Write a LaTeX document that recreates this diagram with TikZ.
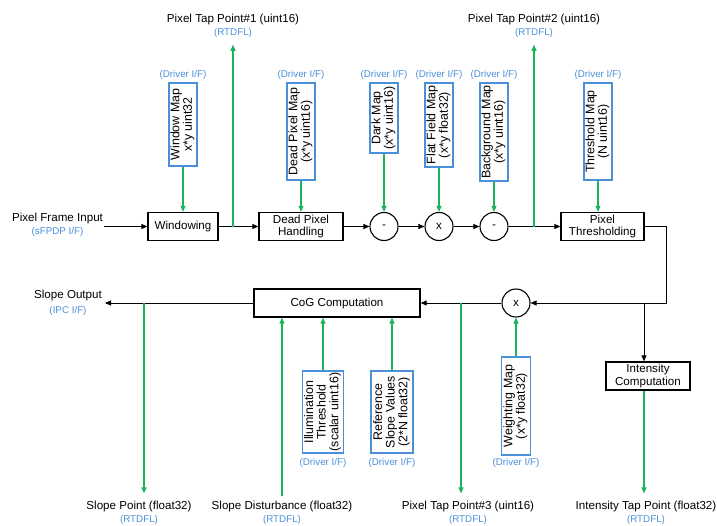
\documentclass[tikz,border=0pt]{standalone}
\usepackage{fontspec}
\setmainfont{Liberation Sans}
\usetikzlibrary{arrows.meta,calc}
\definecolor{ifblue}{HTML}{4A90D9}
\definecolor{tapgreen}{HTML}{1DB35A}

% rotated caption inside a map box
\newcommand{\maptext}[1]{\rotatebox{90}{\fontsize{12.4}{12.2}\selectfont\begin{tabular}{@{}c@{}}#1\end{tabular}}}

\begin{document}
\begin{tikzpicture}[x=1pt,y=-1pt,
  font=\fontsize{11.6}{12.4}\selectfont,
  blk/.style={draw, line width=1.3pt, align=center, inner sep=0pt,
              minimum height=28pt},
  mapbox/.style={draw=ifblue, line width=1.1pt, inner sep=0pt, minimum width=28pt},
  opnode/.style={draw, circle, line width=1.1pt, minimum size=28pt, inner sep=0pt},
  iflbl/.style={text=ifblue, inner sep=0pt, font=\fontsize{9.8}{10}\selectfont},
  lbl/.style={inner sep=0pt},
  flow/.style={line width=0.9pt, -{Triangle[length=6pt,width=5pt]}},
  tap/.style={draw=tapgreen, line width=1.1pt, -{Triangle[length=6pt,width=5pt]}},
]
\useasboundingbox (0,0) rectangle (717,525);

% ---------- upper processing chain ----------
\node[blk, minimum width=70pt] (wind) at (183,226.5) {Windowing};
\node[blk, minimum width=84pt] (dph)  at (301,226.5) {Dead Pixel\\Handling};
\node[opnode] (dark) at (384,226.5) {-};
\node[opnode] (ff)   at (439,226.5) {x};
\node[opnode] (bg)   at (494,226.5) {-};
\node[blk, minimum width=83pt] (pthr) at (602.5,226.5) {Pixel\\Thresholding};

% ---------- lower processing chain ----------
\node[blk, minimum width=166pt] (cog) at (337,303) {CoG Computation};
\node[opnode] (wgt) at (516,303) {x};
\node[blk, minimum width=84pt] (icomp) at (648,376) {Intensity\\Computation};

% ---------- driver maps (top) ----------
\node[mapbox, minimum height=83pt] (wmap) at (183,124.5) {\maptext{Window Map\\x*y uint32}};
\node[mapbox, minimum height=97pt] (dmap) at (301,131.5) {\maptext{Dead Pixel Map\\(x*y uint16)}};
\node[mapbox, minimum height=70pt] (kmap) at (384,118)   {\maptext{Dark Map\\(x*y uint16)}};
\node[mapbox, minimum height=84pt] (fmap) at (439,125)   {\maptext{Flat Field Map\\(x*y float32)}};
\node[mapbox, minimum height=98pt] (bmap) at (494,132)   {\maptext{Background Map\\(x*y uint16)}};
\node[mapbox, minimum height=97pt] (tmap) at (598,131.5) {\maptext{Threshold Map\\(N uint16)}};

\foreach \m/\n in {wmap/dw, dmap/dd, kmap/dk, fmap/df, bmap/db, tmap/dt}
  \node[iflbl] (\n) at (\m.north |- 0,75) {(Driver I/F)};

% ---------- driver inputs (bottom) ----------
\node[mapbox, minimum width=41pt, minimum height=82pt] (ilth) at (323,412)
  {\maptext{Illumination\\Threshold\\(scalar uint16)}};
\node[mapbox, minimum width=42pt, minimum height=82pt] (refs) at (392,412)
  {\maptext{Reference\\Slope Values\\(2*N float32)}};
\node[mapbox, minimum width=29pt, minimum height=98pt] (wmp) at (516,406)
  {\maptext{Weighting Map\\(x*y float32)}};

\node[iflbl] (di) at (323,463) {(Driver I/F)};
\node[iflbl] (dr) at (392,463) {(Driver I/F)};
\node[iflbl] (dg) at (516,463) {(Driver I/F)};

% ---------- external interfaces ----------
\node[lbl] (pfi)  at (57.5,218) {Pixel Frame Input};
\node[iflbl] (pfib) at (57.5,232) {(sFPDP I/F)};
\node[lbl] (sout)  at (68,295) {Slope Output};
\node[iflbl] (soutb) at (68,311) {(IPC I/F)};

\node[lbl] (t1)  at (233,19) {Pixel Tap Point\#1 (uint16)};
\node[iflbl] (t1b) at (233,33) {(RTDFL)};
\node[lbl] (t2)  at (534,19) {Pixel Tap Point\#2 (uint16)};
\node[iflbl] (t2b) at (534,33) {(RTDFL)};

\node[lbl] (sp)  at (139,506) {Slope Point (float32)};
\node[iflbl] (spb) at (139,520) {(RTDFL)};
\node[lbl] (sd)  at (282,506) {Slope Disturbance (float32)};
\node[iflbl] (sdb) at (282,520) {(RTDFL)};
\node[lbl] (t3)  at (468,506) {Pixel Tap Point\#3 (uint16)};
\node[iflbl] (t3b) at (468,520) {(RTDFL)};
\node[lbl] (it)  at (646,506) {Intensity Tap Point (float32)};
\node[iflbl] (itb) at (646,520) {(RTDFL)};

% ---------- junction points ----------
\coordinate (in)    at (104,226.5);
\coordinate (tap1)  at (233,226.5);
\coordinate (tap2)  at (534,226.5);
\coordinate (turn1) at (666,226.5);
\coordinate (turn2) at (666,303);
\coordinate (ibr)   at (644,303);
\coordinate (tap3)  at (461,303);
\coordinate (out)   at (105,303);
\coordinate (tapsp) at (144,303);

% ---------- black data flow ----------
\draw[flow] (in) -- (wind.west);
\draw[flow] (wind.east) -- (dph.west);
\draw[flow] (dph.east) -- (dark.west);
\draw[flow] (dark.east) -- (ff.west);
\draw[flow] (ff.east) -- (bg.west);
\draw[flow] (bg.east) -- (pthr.west);
\draw[flow] (pthr.east) -- (turn1) -- (turn2) -- (wgt.east);
\draw[flow] (ibr) -- (ibr |- icomp.north);
\draw[flow] (wgt.west) -- (cog.east);
\draw[flow] (cog.west) -- (out);

% ---------- map inputs ----------
\draw[tap] (wmap.south) -- (wind.north);
\draw[tap] (dmap.south) -- (dph.north);
\draw[tap] (kmap.south) -- (dark.north);
\draw[tap] (fmap.south) -- (ff.north);
\draw[tap] (bmap.south) -- (bg.north);
\draw[tap] (tmap.south) -- (tmap.south |- pthr.north);
\draw[tap] (ilth.north) -- (ilth.north |- cog.south);
\draw[tap] (refs.north) -- (refs.north |- cog.south);
\draw[tap] (wmp.north) -- (wgt.south);

% ---------- tap points ----------
\draw[tap, shorten >=7pt] (tap1) -- (t1b.south);
\draw[tap, shorten >=7pt] (tap2) -- (t2b.south);
\draw[tap, shorten >=7pt] (tapsp) -- (tapsp |- sp.north);
\draw[tap, shorten >=7pt] (tap3) -- (tap3 |- t3.north);
\draw[tap, shorten >=7pt] (ibr |- icomp.south) -- (ibr |- it.north);
\draw[tap, shorten <=4pt] (sd.north) -- (sd.north |- cog.south);
\end{tikzpicture}
\end{document}
